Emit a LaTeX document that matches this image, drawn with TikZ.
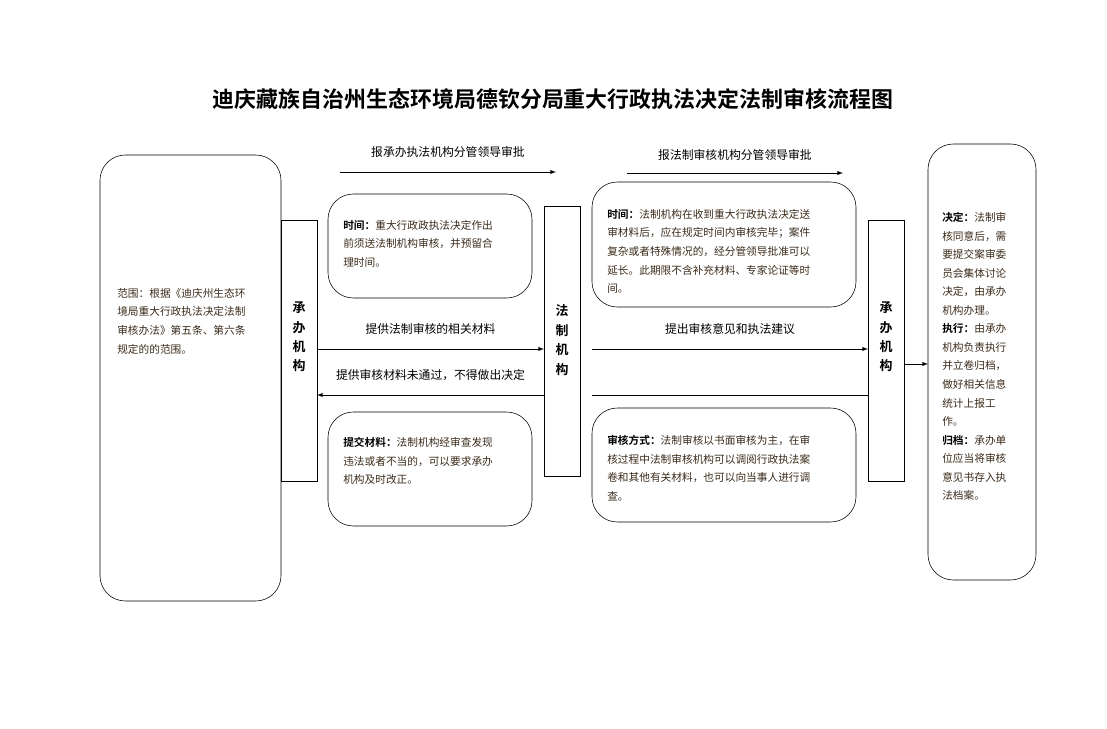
\documentclass[tikz,border=0pt]{standalone}
\usepackage{fontspec}
\setmainfont{Noto Sans CJK SC}[BoldFont={Noto Sans CJK SC Bold}]
\usetikzlibrary{positioning}
\definecolor{bodytxt}{HTML}{3A2A1A}
\begin{document}
\begin{tikzpicture}[x=0.025cm,y=-0.025cm,
  rbox/.style={draw,rounded corners=18pt,thin},
  sbox/.style={draw,thin},
  para/.style={anchor=north west,align=left,font=\fontsize{7.6}{13.2}\selectfont,text=bodytxt,inner sep=0pt},
  vlab/.style={align=center,font=\fontsize{9.2}{13.8}\selectfont\bfseries,inner sep=0pt},
  flow/.style={-latex,thin},
  flowlab/.style={font=\fontsize{8.4}{10}\selectfont,inner sep=1pt}]
  \useasboundingbox (0,0) rectangle (1107,729);
  %title
  \node (title) at (553,99) {\fontsize{15.6}{18}\selectfont\bfseries 迪庆藏族自治州生态环境局德钦分局重大行政执法决定法制审核流程图};
  %boxes
  \draw[rbox] (100,155) rectangle (281,601);
  \draw[sbox] (281,220) rectangle (317,481);
  \draw[rbox] (328,194) rectangle (532,298);
  \draw[rbox] (328,412) rectangle (532,526);
  \draw[sbox] (544,206) rectangle (580,476);
  \draw[rbox] (592,182) rectangle (856,307);
  \draw[rbox] (592,408) rectangle (856,522);
  \draw[sbox] (868,220) rectangle (904,481);
  \draw[rbox] (928,144) rectangle (1036,580);
  %named anchors for connectors
  \coordinate (cbA) at (317,349);  \coordinate (fzA) at (544,349);
  \coordinate (fzB) at (544,395);  \coordinate (cbB) at (317,395);
  \coordinate (fzC) at (592,349);  \coordinate (cbC) at (868,349);
  \coordinate (fzD) at (592,395);  \coordinate (cbD) at (868,395);
  \coordinate (cbE) at (904,364);  \coordinate (jd) at (928,364);
  \coordinate (t1s) at (340,172);  \coordinate (t1e) at (556,172);
  \coordinate (t2s) at (627,173);  \coordinate (t2e) at (843,173);
  %vertical labels
  \node[vlab] (cb1) at (299,337) {承\\办\\机\\构};
  \node[vlab] (fz) at (562,340) {法\\制\\机\\构};
  \node[vlab] (cb2) at (886,337) {承\\办\\机\\构};
  %texts
  \node[para] (scope) at (117,288) {范围：根据《迪庆州生态环\\境局重大行政执法决定法制\\审核办法》第五条、第六条\\规定的的范围。};
  \node[para] (time1) at (343,220) {\textbf{\color{black}时间：}重大行政政执法决定作出\\前须送法制机构审核，并预留合\\理时间。};
  \node[para] (sub) at (343,437) {\textbf{\color{black}提交材料：}法制机构经审查发现\\违法或者不当的，可以要求承办\\机构及时改正。};
  \node[para] (time2) at (607,209) {\textbf{\color{black}时间：}法制机构在收到重大行政执法决定送\\审材料后，应在规定时间内审核完毕；案件\\复杂或者特殊情况的，经分管领导批准可以\\延长。此期限不含补充材料、专家论证等时\\间。};
  \node[para] (way) at (607,435) {\textbf{\color{black}审核方式：}法制审核以书面审核为主，在审\\核过程中法制审核机构可以调阅行政执法案\\卷和其他有关材料，也可以向当事人进行调\\查。};
  \node[para] (dec) at (942,212) {\textbf{\color{black}决定：}法制审\\核同意后，需\\要提交案审委\\员会集体讨论\\决定，由承办\\机构办理。\\\textbf{\color{black}执行：}由承办\\机构负责执行\\并立卷归档，\\做好相关信息\\统计上报工\\作。\\\textbf{\color{black}归档：}承办单\\位应当将审核\\意见书存入执\\法档案。};
  %connectors
  \draw[flow] (t1s) -- node[flowlab,above=9pt] {报承办执法机构分管领导审批} (t1e);
  \draw[flow] (t2s) -- node[flowlab,above=8pt] {报法制审核机构分管领导审批} (t2e);
  \draw[flow] (cbA) -- node[flowlab,above=9pt] {提供法制审核的相关材料} (fzA);
  \draw[flow] (fzB) -- node[flowlab,above=9pt] {提供审核材料未通过，不得做出决定} (cbB);
  \draw[flow] (fzC) -- node[flowlab,above=9pt] {提出审核意见和执法建议} (cbC);
  \draw[thin] (fzD) -- (cbD);
  \draw[flow] (cbE) -- (jd);
\end{tikzpicture}
\end{document}
